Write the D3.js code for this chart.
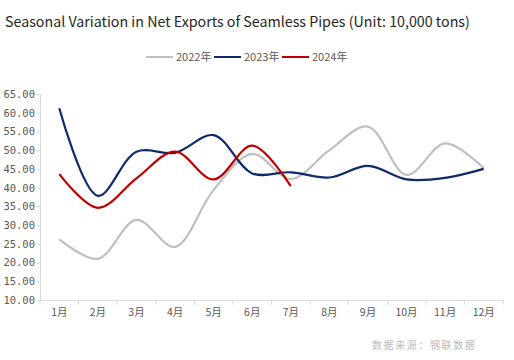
<!DOCTYPE html>
<html><head><meta charset="utf-8">
<script src="https://cdn.jsdelivr.net/npm/d3@7"></script>
<style>body{margin:0;background:#fff}svg{display:block}</style>
</head><body>
<svg id="c" width="514" height="360"></svg>
<script>
const months = ["1月","2月","3月","4月","5月","6月","7月","8月","9月","10月","11月","12月"];
const yTicks = [10,15,20,25,30,35,40,45,50,55,60,65];
const s2022 = [26.2,21.0,31.4,24.2,39.4,49.0,42.3,50.0,56.3,43.4,51.8,45.2];
const s2023 = [61.2,37.8,49.6,49.3,54.0,43.8,44.1,42.7,45.8,42.2,42.6,45.0];
const s2024 = [43.6,34.6,42.5,49.6,42.2,51.2,40.4];
const seriesNames = ["2022年","2023年","2024年"];
const seriesColors = ["#BFBFBF","#0E2A6B","#C00000"];

(function(){
const svg = d3.select("#c");
const font = "'Noto Sans CJK SC','Noto Sans',sans-serif";
const mL = 40, mR = 503, mT = 94, mB = 300;

const title = svg.append("text").attr("x",5).attr("y",27).attr("font-family",font)
  .attr("font-size",16).attr("fill","#262626")
  .text("Seasonal Variation in Net Exports of Seamless Pipes (Unit: 10,000 tons)");
const tw = title.node().getComputedTextLength();
title.attr("font-size", 16 * 465 / tw);

const x = d3.scaleBand().domain(months).range([mL,mR]);
const y = d3.scaleLinear().domain([10,65]).range([mB,mT]);

const ya = svg.append("g").attr("transform",`translate(${mL},0)`)
  .call(d3.axisLeft(y).tickValues(yTicks).tickSize(3).tickFormat(d=>d3.format(".2f")(d)));
ya.select(".domain").attr("stroke","#D9D9D9");
ya.selectAll(".tick line").attr("stroke","#D9D9D9");
ya.selectAll(".tick text").attr("font-family","'DejaVu Sans Mono',monospace").attr("font-size",10.5)
  .attr("fill","#595959").attr("x",-5);

const xa = svg.append("g").attr("transform",`translate(0,${mB})`)
  .call(d3.axisBottom(x).tickSize(0));
xa.select(".domain").attr("stroke","#D9D9D9");
xa.selectAll(".tick text").attr("font-family",font).attr("font-size",10.5)
  .attr("fill","#595959").attr("dy","1.2em");
const bounds = months.map(m=>x(m)).concat([x(months[11])+x.bandwidth()]);
svg.append("g").selectAll("line").data(bounds).join("line")
  .attr("x1",d=>d).attr("x2",d=>d).attr("y1",mB).attr("y2",mB+5)
  .attr("stroke","#D9D9D9");

const line = d3.line().x((d,i)=>x(months[i])+x.bandwidth()/2).y(d=>y(d))
  .curve(d3.curveCatmullRom.alpha(0.5));
[s2022,s2023,s2024].forEach((s,k)=>{
  svg.append("path").attr("d",line(s)).attr("fill","none")
    .attr("stroke",seriesColors[k]).attr("stroke-width",2.2);
});

const lx = [146,214,282];
seriesNames.forEach((n,k)=>{
  svg.append("line").attr("x1",lx[k]).attr("x2",lx[k]+27).attr("y1",57).attr("y2",57)
    .attr("stroke",seriesColors[k]).attr("stroke-width",2);
  svg.append("text").attr("x",lx[k]+30).attr("y",61).attr("font-family",font)
    .attr("font-size",11).attr("fill","#595959").text(n);
});

svg.append("text").attr("x",372).attr("y",349).attr("font-family",font)
  .attr("font-size",10).attr("letter-spacing",1.6).attr("fill","#BBBBBB").text("数据来源：钢联数据");
})();
</script>
</body></html>
